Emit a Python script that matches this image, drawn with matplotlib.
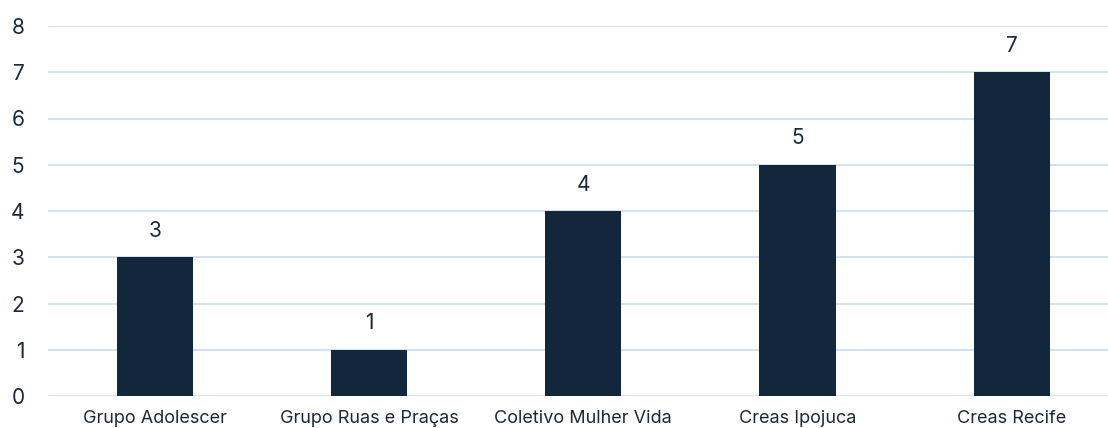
import matplotlib.pyplot as plt

categories = ["Grupo Adolescer", "Grupo Ruas e Praças", "Coletivo Mulher Vida",
              "Creas Ipojuca", "Creas Recife"]
values = [3, 1, 4, 5, 7]
yticks = [0, 1, 2, 3, 4, 5, 6, 7, 8]

bar_color = "#12273c"
text_color = "#1b2a3a"
grid_color = "#d3e2f0"

plt.rcParams["font.family"] = ["Inter", "DejaVu Sans"]

fig = plt.figure(figsize=(11.08, 4.28), dpi=100)
ax = fig.add_axes([48 / 1108, 32 / 428, 1 - 48 / 1108, 370 / 428])

x = list(range(len(categories)))
ax.bar(x, values, width=0.355, color=bar_color, zorder=3)

# value labels above bars
for xi, v in zip(x, values):
    ax.annotate(str(v), (xi, v), xytext=(0, 19), textcoords="offset points",
                ha="center", va="center", fontsize=15, color=text_color)

ax.set_xlim(-0.5, 4.45)
ax.set_ylim(0, 8)
ax.set_yticks(yticks)
ax.set_xticks(x)
ax.set_xticklabels(categories, fontsize=13, color=text_color)
ax.tick_params(axis="y", labelsize=15, labelcolor=text_color, length=0, pad=17)
ax.tick_params(axis="x", length=0, pad=10)

ax.grid(axis="y", color=grid_color, linewidth=1.5, zorder=0)
for s in ax.spines.values():
    s.set_visible(False)

fig.savefig("out.png", dpi=100)
